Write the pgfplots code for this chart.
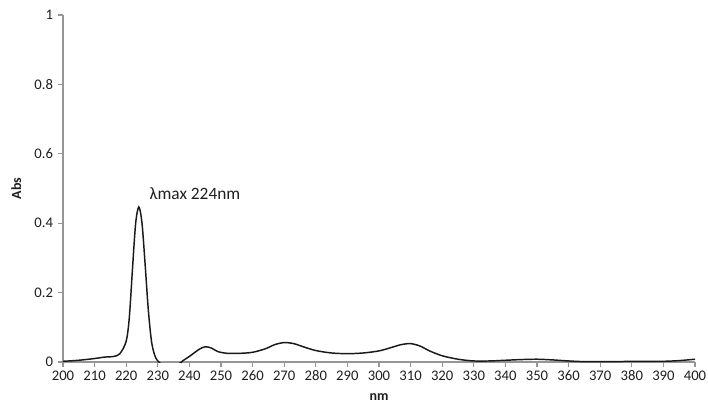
\documentclass[border=0pt]{standalone}
\usepackage{pgfplots}
\pgfplotsset{compat=1.18}
\usepackage{fontspec}
\setmainfont{Carlito}
\definecolor{axgray}{RGB}{150,150,150}
\definecolor{txt}{RGB}{30,30,30}
\begin{document}
\begin{tikzpicture}[x=0.75pt,y=0.75pt]
\useasboundingbox (-63,-46) rectangle (645,362);
\begin{axis}[
  at={(0,0)}, anchor=origin,
  scale only axis,
  width=474pt, height=260.25pt,
  xmin=200, xmax=400, ymin=0, ymax=1,
  axis x line=bottom, axis y line=left,
  axis line style={axgray, line width=0.9pt, -},
  xtick={200,210,...,400},
  ytick={0,0.2,...,1},
  yticklabels={0,0.2,0.4,0.6,0.8,1},
  tick style={axgray, line width=0.9pt},
  tick align=outside,
  major tick length=4pt,
  tick label style={font=\fontsize{11}{13}\selectfont, text=txt},
  xticklabel style={yshift=1pt},
  /pgf/number format/assume math mode=true,
  xlabel={\textbf{nm}}, ylabel={\textbf{Abs}},
  label style={font=\fontsize{10.5}{12}\selectfont, text=txt},
  xlabel style={at={(axis description cs:0.5,-0.102)}, anchor=center},
  ylabel style={at={(axis description cs:-0.074,0.5)}, anchor=center},
  clip=true,
]
\addplot[black!90, line width=1.1pt, smooth, tension=0.5] coordinates {
(200,0.002) (205,0.005) (210,0.010) (213,0.014) (216,0.016) (218,0.024)
(220,0.060) (221,0.130) (222,0.270) (223,0.400) (224,0.447) (225,0.400)
(226,0.280) (227,0.150) (228,0.060) (229,0.020) (230,0.003) (232,-0.012)
(234,-0.018) (236,-0.010) (238,0.004) (240,0.016) (243,0.036) (245,0.044)
(247,0.040) (249,0.030) (252,0.025) (256,0.025) (260,0.028) (264,0.038)
(267,0.050) (270,0.056) (273,0.053) (276,0.044) (280,0.033) (285,0.026)
(290,0.024) (295,0.026) (300,0.032) (304,0.042) (307,0.050) (310,0.053)
(313,0.046) (316,0.032) (320,0.018) (325,0.008) (330,0.003) (335,0.003)
(340,0.005) (345,0.007) (350,0.008) (355,0.006) (360,0.003) (365,0.001)
(370,0.001) (375,0.001) (380,0.002) (385,0.002) (390,0.002) (395,0.004)
(400,0.008)
};
\node[anchor=base west, font=\fontsize{13}{15}\selectfont, text=txt, inner sep=0pt]
  at (axis cs:227.3,0.468) {λmax 224nm};
\end{axis}
\end{tikzpicture}
\end{document}
